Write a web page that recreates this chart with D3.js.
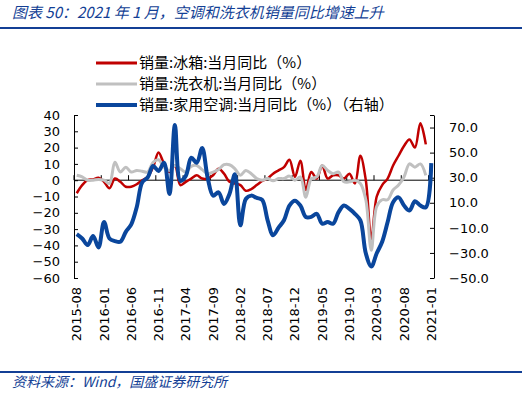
<!DOCTYPE html>
<html>
<head>
<meta charset="utf-8">
<script src="https://cdn.jsdelivr.net/npm/d3@7"></script>
<style>
  body { margin: 0; background: #fff; }
  svg { display: block; }
</style>
</head>
<body>
<svg id="chart" width="522" height="393"></svg>
<script>
// months 2015-08 .. 2021-01
const months = d3.timeMonth.range(new Date(2015, 7, 1), new Date(2021, 1, 1)).map(d3.timeFormat("%Y-%m"));

// 销量:冰箱:当月同比 (%), left axis, no 2021-01 value
const fridge = [-8, -3, 0, 0.5, 1.5, -1, -5, 1, -1, -4,
  -4, -2.5, 0, 2, 8, 17, 10, 5, 9, -3,
  -1, 1, 3, 1, 1, 3, 7, 4, -1, -2,
  -3, -6.5, -5.5, -3, -0.5, 1, 4, 6, 8, 12.5,
  2, 12, -6, 5, 1, 9, 1, 3, 3, 1,
  4, -2, 15, 0, -36, -10, -3, 1, 9, 15,
  21, 25, 20, 35, 22];

// 销量:洗衣机:当月同比 (%), left axis
const washer = [3, 2, 0, 0, 0.5, 0, -2, 11, 5, 8,
  5, 6, 5.5, 5, 11, 12.5, 8, 6, 9, 7,
  5, 8.5, 9, 6.5, 4, 5, 6.5, 9.5, 9.5, 7,
  3, 6, 4, 1, 0, 1, -0.4, 1, 1, 2.5,
  0, 2, -10.5, 1, 2, 9, 6, 4, 5, -1,
  -1, 0, -2, -12, -43, -16, -12, -12, -6, -3,
  2, 10, 8, 10, 3];

// 销量:家用空调:当月同比 (%), right axis
const aircon = [-15, -18.5, -23.7, -16.6, -25.6, -5.3, -18.5, -20.6, -21.1, -13.2,
  -7.2, 6.5, 26.2, 30.1, 39.3, 35.4, 41.9, 17, 72, 27.5,
  31.4, 45.9, 41.9, 53.7, 30.1, 15.7, 18.3, 9.1, 17, 32.7,
  -8, 13, 15.7, 13.9, 12.3, -4, -15.9, -9.8, -4, 7.8,
  11.7, 7.8, -1.4, -1.3, 1.2, -6.7, -5.3, -6.7, 2.5, 7.8,
  5.1, 1.2, -4.1, -30.3, -40.8, -30.3, -21.1, -5.4, 10.4, 14.3,
  7.8, 3.8, 11.2, 7.8, 6.4, 41.6];

const leftTicks = [-60, -50, -40, -30, -20, -10, 0, 10, 20, 30, 40];
const rightTicks = [-50, -30, -10, 10, 30, 50, 70];
const labelMonths = ["2015-08", "2016-01", "2016-06", "2016-11", "2017-04", "2017-09", "2018-02",
  "2018-07", "2018-12", "2019-05", "2019-10", "2020-03", "2020-08", "2021-01"];

const legendNames = ["销量:冰箱:当月同比（%）", "销量:洗衣机:当月同比（%）", "销量:家用空调:当月同比（%）（右轴）"];
const colors = ["#c00000", "#c0c0c0", "#0a469c"];

const svg = d3.select("#chart");
const numFont = "'DejaVu Sans', Verdana, sans-serif";
const cjkFont = "'Noto Sans CJK SC', 'DejaVu Sans', sans-serif";
const navy = "#133f95";

const x = d3.scaleBand().domain(months).range([74, 434]);
const cx = m => x(m) + x.bandwidth() / 2;
const yL = d3.scaleLinear().domain([-60, 40]).range([278, 115]);
const yR = d3.scaleLinear().domain([-50, 80]).range([278, 115]);

// title
svg.append("text")
  .attr("x", 12).attr("y", 18)
  .attr("font-family", cjkFont)
  .attr("font-size", 15)
  .attr("font-style", "italic")
  .attr("fill", navy)
  .text("图表 50：2021 年 1 月，空调和洗衣机销量同比增速上升");

svg.append("line")
  .attr("x1", 0).attr("x2", 522).attr("y1", 28).attr("y2", 28)
  .attr("stroke", navy).attr("stroke-width", 2);

// legend
const legend = svg.append("g");
legendNames.forEach((name, i) => {
  const ly = 63 + i * 21;
  legend.append("line")
    .attr("x1", 96).attr("x2", 137).attr("y1", ly).attr("y2", ly)
    .attr("stroke", colors[i])
    .attr("stroke-width", i == 2 ? 4 : 3);
  legend.append("text")
    .attr("x", 139).attr("y", ly)
    .attr("dy", "0.35em")
    .attr("font-family", cjkFont)
    .attr("font-size", 15)
    .attr("fill", "#000")
    .text(name);
});

// left axis
const gL = svg.append("g")
  .attr("transform", "translate(74,0)")
  .call(d3.axisLeft(yL).tickValues(leftTicks).tickSize(-4).tickSizeOuter(0).tickPadding(14));

// right axis
const gR = svg.append("g")
  .attr("transform", "translate(434,0)")
  .call(d3.axisRight(yR).tickValues(rightTicks.concat([80])).tickSize(-4).tickSizeOuter(0).tickPadding(15)
    .tickFormat(d => d == 80 ? "" : d3.format(".1f")(d)));

[gL, gR].forEach(g => {
  g.selectAll("text").attr("font-family", numFont).attr("font-size", 13).attr("fill", "#000");
  g.selectAll("line, path").attr("stroke", "#000");
});

// category axis at zero
const zeroY = yL(0);
svg.append("line")
  .attr("x1", 74).attr("x2", 434).attr("y1", zeroY).attr("y2", zeroY)
  .attr("stroke", "#000");

svg.append("g").selectAll("line")
  .data(months.filter((m, i) => i % 5 == 0))
  .join("line")
  .attr("x1", d => x(d)).attr("x2", d => x(d))
  .attr("y1", zeroY).attr("y2", zeroY - 5)
  .attr("stroke", "#000");

svg.append("g").selectAll("text")
  .data(labelMonths)
  .join("text")
  .attr("transform", d => `translate(${cx(d)},287) rotate(-90)`)
  .attr("text-anchor", "end")
  .attr("dy", "0.35em")
  .attr("font-family", numFont)
  .attr("font-size", 13)
  .attr("fill", "#000")
  .text(d => d);

// series
const lineL = d3.line()
  .x((d, i) => cx(months[i]))
  .y(d => yL(d))
  .curve(d3.curveCatmullRom.alpha(0.5));
const lineR = d3.line()
  .x((d, i) => cx(months[i]))
  .y(d => yR(d))
  .curve(d3.curveCatmullRom.alpha(0.5));

svg.append("path").datum(fridge)
  .attr("d", lineL).attr("fill", "none")
  .attr("stroke", colors[0]).attr("stroke-width", 2.5);
svg.append("path").datum(washer)
  .attr("d", lineL).attr("fill", "none")
  .attr("stroke", colors[1]).attr("stroke-width", 3);
svg.append("path").datum(aircon)
  .attr("d", lineR).attr("fill", "none")
  .attr("stroke", colors[2]).attr("stroke-width", 4)
  .attr("stroke-linejoin", "round");

// source
svg.append("line")
  .attr("x1", 0).attr("x2", 522).attr("y1", 372).attr("y2", 372)
  .attr("stroke", navy).attr("stroke-width", 2);

svg.append("text")
  .attr("x", 12).attr("y", 387)
  .attr("font-family", cjkFont)
  .attr("font-size", 14)
  .attr("font-style", "italic")
  .attr("fill", navy)
  .text("资料来源：Wind，国盛证券研究所");
</script>
</body>
</html>
